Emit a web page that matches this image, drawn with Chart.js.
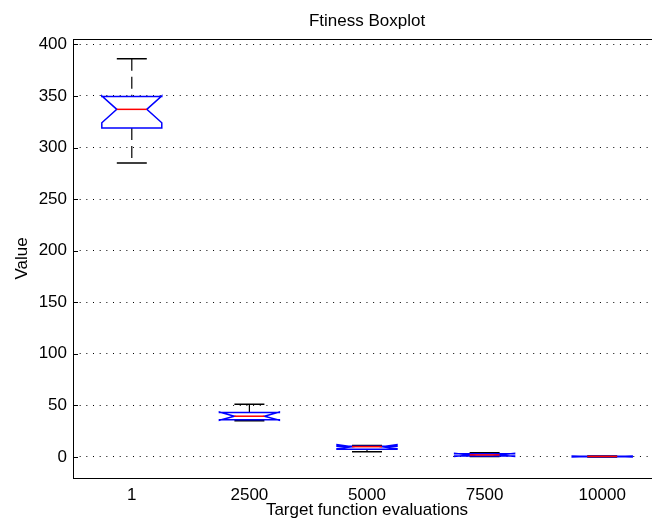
<!DOCTYPE html>
<html>
<head>
<meta charset="utf-8">
<script src="https://cdn.jsdelivr.net/npm/chart.js@4.4.1/dist/chart.umd.min.js"></script>
<style>
  html, body { margin: 0; padding: 0; background: #fff; overflow: hidden; }
  #wrap { width: 652px; height: 522px; overflow: hidden; }
</style>
</head>
<body>
<div id="wrap"><canvas id="chart" width="700" height="522"></canvas></div>
<script>
const categories = ["1", "2500", "5000", "7500", "10000"];
const whiskerLow = [285, 35, 5, 0.5, 0];
const q1 = [319, 36, 7.5, 1, 0.2];
const median = [337, 39.5, 10, 2, 0.5];
const q3 = [349.5, 43, 10.5, 3, 0.8];
const whiskerHigh = [386, 51, 11, 4, 1];
const notchLow = [324, 35.5, 8, 0.5, 0];
const notchHigh = [350, 43.5, 12, 3.5, 1];
const yTicks = [0, 50, 100, 150, 200, 250, 300, 350, 400];

const FONT = "'Liberation Sans', Arial, sans-serif";
Chart.defaults.font.family = FONT;
Chart.defaults.font.size = 17;
Chart.defaults.color = "#000";

// draws the notched boxes, whiskers, axis box and title (matlab style)
const boxplot = {
  id: "boxplot",
  afterDatasetsDraw(chart) {
    const { ctx, chartArea: a, scales: { x, y } } = chart;
    ctx.save();

    // inward tick marks on y
    ctx.strokeStyle = "#000";
    ctx.lineWidth = 1;
    yTicks.forEach(t => {
      const py = Math.round(y.getPixelForValue(t)) + 0.5;
      ctx.beginPath();
      ctx.moveTo(a.left, py);
      ctx.lineTo(a.left + 5, py);
      ctx.stroke();
    });

    categories.forEach((c, i) => {
      const cx = x.getPixelForValue(i);
      const w = x.getPixelForValue(i + 0.255) - cx;
      const Y = v => y.getPixelForValue(v);

      // whiskers
      ctx.strokeStyle = "#000";
      ctx.lineWidth = 1.2;
      ctx.setLineDash([12, 6]);
      ctx.beginPath();
      ctx.moveTo(cx, Y(whiskerHigh[i]));
      ctx.lineTo(cx, Y(q3[i]));
      ctx.moveTo(cx, Y(q1[i]));
      ctx.lineTo(cx, Y(whiskerLow[i]));
      ctx.stroke();
      ctx.setLineDash([]);

      // caps
      ctx.lineWidth = 1.5;
      ctx.beginPath();
      ctx.moveTo(cx - w / 2, Y(whiskerHigh[i]));
      ctx.lineTo(cx + w / 2, Y(whiskerHigh[i]));
      ctx.moveTo(cx - w / 2, Y(whiskerLow[i]));
      ctx.lineTo(cx + w / 2, Y(whiskerLow[i]));
      ctx.stroke();

      // notched box
      ctx.strokeStyle = "#0000ff";
      ctx.lineWidth = 1.5;
      ctx.beginPath();
      ctx.moveTo(cx - w, Y(q1[i]));
      ctx.lineTo(cx - w, Y(notchLow[i]));
      ctx.lineTo(cx - w / 2, Y(median[i]));
      ctx.lineTo(cx - w, Y(notchHigh[i]));
      ctx.lineTo(cx - w, Y(q3[i]));
      ctx.lineTo(cx + w, Y(q3[i]));
      ctx.lineTo(cx + w, Y(notchHigh[i]));
      ctx.lineTo(cx + w / 2, Y(median[i]));
      ctx.lineTo(cx + w, Y(notchLow[i]));
      ctx.lineTo(cx + w, Y(q1[i]));
      ctx.closePath();
      ctx.stroke();

      // median
      ctx.strokeStyle = "#ff0000";
      ctx.beginPath();
      ctx.moveTo(cx - w / 2, Y(median[i]));
      ctx.lineTo(cx + w / 2, Y(median[i]));
      ctx.stroke();
    });

    // axis box
    ctx.strokeStyle = "#000";
    ctx.lineWidth = 1;
    ctx.strokeRect(a.left + 0.5, a.top + 0.5, a.right - a.left, a.bottom - a.top);

    // title
    ctx.fillStyle = "#000";
    ctx.font = "17px " + FONT;
    ctx.textAlign = "center";
    ctx.textBaseline = "middle";
    ctx.fillText("Ftiness Boxplot", (a.left + a.right) / 2, 21);
    ctx.restore();
  }
};

new Chart(document.getElementById("chart"), {
  type: "line",
  data: {
    labels: categories,
    datasets: [{ data: median, showLine: false, pointRadius: 0, pointHoverRadius: 0 }]
  },
  options: {
    responsive: false,
    animation: false,
    events: [],
    layout: { padding: { top: 39, right: 39, left: 0, bottom: 0 } },
    plugins: { legend: { display: false }, tooltip: { enabled: false }, title: { display: false } },
    scales: {
      x: {
        type: "category",
        offset: true,
        grid: { display: false, drawTicks: false },
        border: { display: false },
        ticks: { padding: 7, maxRotation: 0, autoSkip: false },
        title: { display: true, text: "Target function evaluations", padding: { top: 0, bottom: 1 } },
        afterFit: s => { s.height = 44; }
      },
      y: {
        min: -20.4,
        max: 405.2,
        afterBuildTicks: s => { s.ticks = yTicks.map(v => ({ value: v })); },
        grid: { color: "#000", lineWidth: 1, drawTicks: false },
        border: { display: false, dash: [1, 5.67] },
        ticks: { padding: 6 },
        title: { display: true, text: "Value", padding: { top: 12, bottom: 0 } },
        afterFit: s => { s.width = 73; }
      }
    }
  },
  plugins: [boxplot]
});
</script>
</body>
</html>
